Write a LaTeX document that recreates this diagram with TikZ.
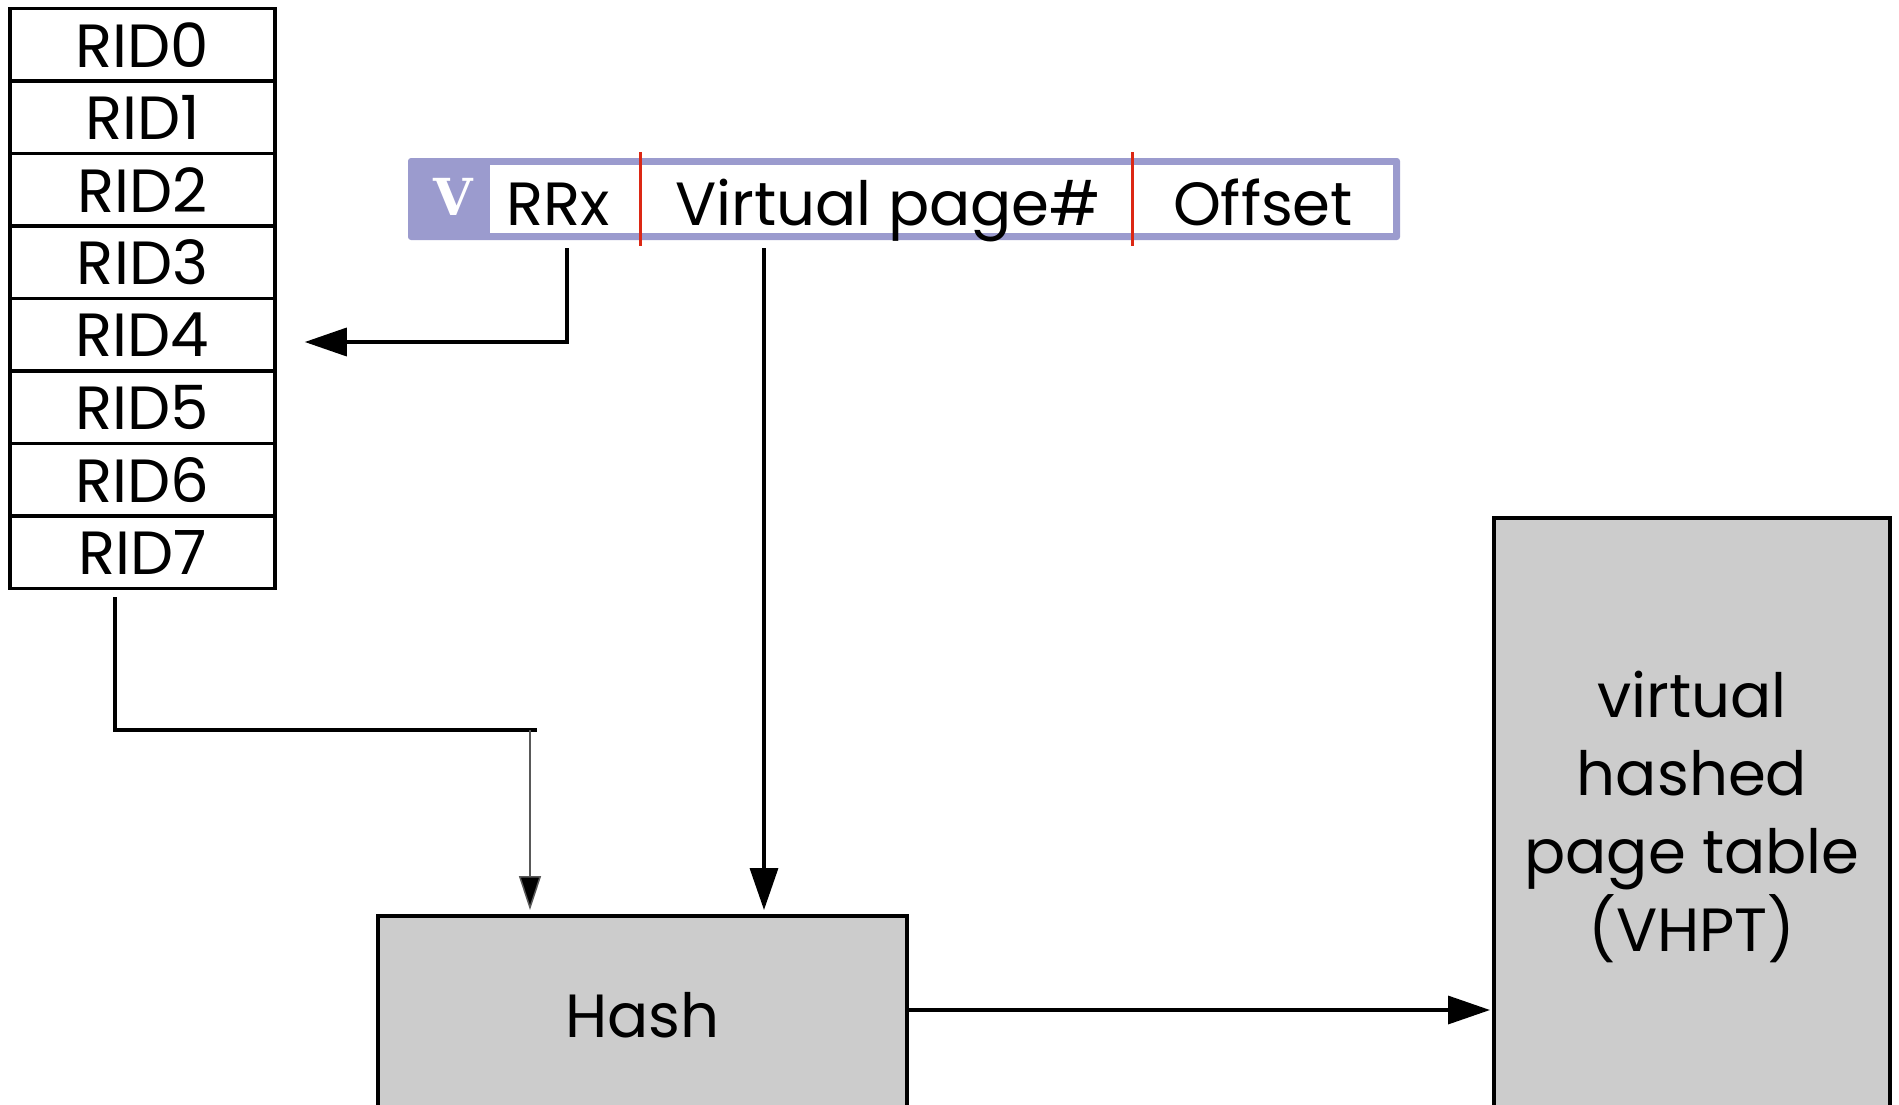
\documentclass[tikz,border=0pt]{standalone}
\usepackage{fontspec}
\setmainfont{Poppins}
\newfontfamily\vbitfont{DejaVu Serif}
\usetikzlibrary{arrows.meta,calc}
\definecolor{barpurple}{RGB}{155,155,206}
\definecolor{boxgrey}{RGB}{204,204,204}
\definecolor{sepred}{RGB}{220,40,20}
\begin{document}
\begin{tikzpicture}[x=1pt,y=-1pt,
  every node/.style={font=\fontsize{61}{78}\selectfont, inner sep=0pt},
  ridrow/.style={draw=black, line width=3.5pt, minimum width=265pt, minimum height=72.5pt},
  greybox/.style={draw=black, line width=4pt, fill=boxgrey},
  fieldtxt/.style={anchor=base},
  thickarrow/.style={line width=3.5pt, -{Triangle[length=42pt,width=28pt]}},
  thinarrow/.style={line width=1.5pt, draw=black!65, -{Triangle[length=34pt,width=22pt,fill=black]}},
  plainline/.style={line width=3.5pt}
]
\useasboundingbox (0,0) rectangle (1899,1104);
\fill[white] (0,0) rectangle (1899,1104);

% RID table
\foreach \i in {0,...,7} {
  \node[ridrow] (r\i) at (142.5,{8.5+72.5*(\i+0.5)}) {RID\i};
}

% address bar
\fill[barpurple, rounded corners=3pt] (408,158) rectangle (1400,240);
\fill[white] (490,165) rectangle (1393,233);
\node[text=white, font=\vbitfont\bfseries\fontsize{51}{51}\selectfont] (vbit) at (453,197) {V};
\node[fieldtxt] (rrx) at (558,225) {RRx};
\node[fieldtxt] (vpn) at (888,225) {Virtual page\#};
\node[fieldtxt] (off) at (1263,225) {Offset};
\coordinate (sepa) at (640,152);
\coordinate (sepb) at (1132,152);
\draw[sepred, line width=3pt] (sepa) -- ++(0,94);
\draw[sepred, line width=3pt] (sepb) -- ++(0,94);

% boxes
\node[greybox, minimum width=529pt, minimum height=198pt] (hash) at (642.5,1015) {Hash};
\node[greybox, minimum width=396pt, minimum height=598pt, align=center] (vhpt) at (1692,817)
  {virtual\\hashed\\page table\\(VHPT)};

% connectors
\coordinate (rrxout) at (567,248);
\coordinate (rrxturn) at (567,342);
\coordinate (r4in) at ($(r4.east |- rrxturn)+(28,0)$);
\draw[thickarrow] (rrxout) -- (rrxturn) -- (r4in);

\coordinate (vpnout) at (764,248);
\draw[thickarrow, shorten >=4pt] (vpnout) -- (vpnout |- hash.north);

\coordinate (r7out) at (115,597);
\coordinate (r7turn) at (115,730);
\coordinate (r7end) at (537,730);
\draw[plainline] (r7out) -- (r7turn) -- (r7end);
\coordinate (thintop) at (530,730);
\draw[thinarrow, shorten >=4pt] (thintop) -- (thintop |- hash.north);

\coordinate (hashout) at ($(hash.east)+(0,-5)$);
\draw[thickarrow, shorten >=2pt] (hashout) -- (vhpt.west |- hashout);
\end{tikzpicture}
\end{document}
